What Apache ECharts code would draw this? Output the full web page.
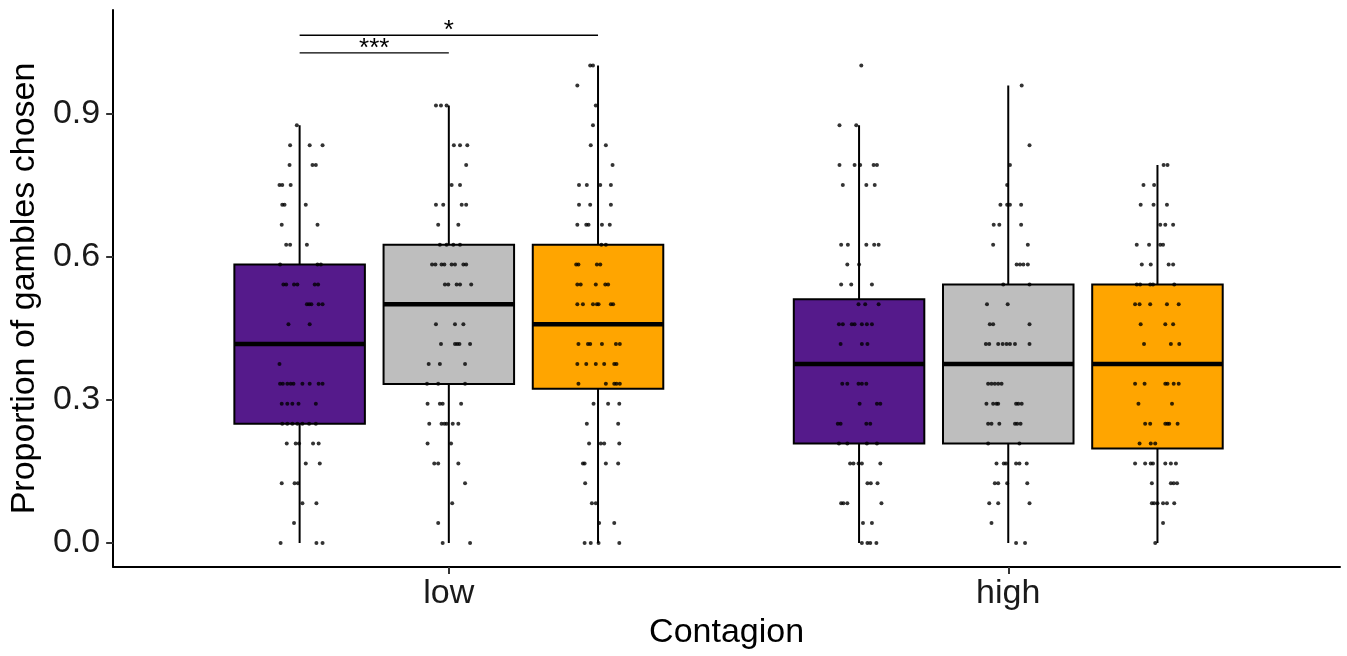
<!DOCTYPE html>
<html>
<head>
<meta charset="utf-8">
<title>Proportion of gambles chosen</title>
<script src="https://cdn.jsdelivr.net/npm/echarts@6/dist/echarts.min.js"></script>
<style>
  html, body { margin: 0; padding: 0; background: #fff; }
  #chart { width: 1347px; height: 656px; }
</style>
</head>
<body>
<div id="chart"></div>
<script>
// Contagion levels on the x axis, three conditions dodged inside each.
const categories = ['low', 'high'];
const conditionColors = ['#551A8B', '#BEBEBE', '#FFA500'];
const yTicks = [0, 0.3, 0.6, 0.9];
const TRIALS = 24;

// Box statistics: [lower whisker, Q1, median, Q3, upper whisker]
const lowPurpleBox = [0, 0.25, 0.4167, 0.5833, 0.875];
const lowGrayBox = [0, 0.3333, 0.5, 0.625, 0.9167];
const lowOrangeBox = [0, 0.3229, 0.4583, 0.625, 1.0];
const highPurpleBox = [0, 0.2083, 0.375, 0.5104, 0.875];
const highGrayBox = [0, 0.2083, 0.375, 0.5417, 0.9583];
const highOrangeBox = [0, 0.1979, 0.375, 0.5417, 0.7917];

// Jittered participants: [gambles chosen out of 24, horizontal jitter]
const lowPurplePoints = [
  [21, -0.005], [20, -0.017], [20, 0.018], [20, 0.041], [19, -0.018], [19, 0.023], [19, 0.029],
  [18, -0.036], [18, -0.031], [18, -0.016], [17, -0.031], [17, -0.027], [17, 0.011],
  [16, -0.032], [16, 0.032], [15, -0.024], [15, -0.017], [15, 0.013],
  [14, -0.035], [14, 0.032], [14, 0.038],
  [13, -0.029], [13, -0.024], [13, -0.010], [13, -0.004], [13, 0.027], [13, 0.033],
  [12, 0.013], [12, 0.017], [12, 0.021], [12, 0.034], [12, 0.041], [11, -0.020], [11, 0.018],
  [9, -0.036],
  [8, -0.035], [8, -0.030], [8, -0.022], [8, -0.016], [8, -0.011], [8, 0.005], [8, 0.018], [8, 0.034], [8, 0.041],
  [7, -0.032], [7, -0.022], [7, -0.013], [7, -0.002], [7, 0.029],
  [6, -0.031], [6, -0.022], [6, -0.013], [6, -0.004], [6, 0.005], [6, 0.017], [6, 0.029],
  [5, -0.023], [5, -0.007], [5, -0.001], [5, 0.024], [5, 0.034], [4, 0.011], [4, 0.036],
  [3, -0.032], [3, -0.009], [3, -0.003], [2, 0.005], [2, 0.030], [1, -0.010],
  [0, -0.034], [0, 0.030], [0, 0.041]
];
const lowGrayPoints = [
  [22, -0.023], [22, -0.014], [22, -0.004], [20, 0.009], [20, 0.020], [20, 0.033], [19, 0.031],
  [18, 0.005], [18, 0.020], [17, -0.023], [17, -0.010], [17, 0.023], [17, 0.031],
  [16, -0.019], [16, 0.017], [15, -0.016], [15, -0.004], [15, 0.008], [15, 0.020],
  [14, -0.030], [14, -0.024], [14, -0.013], [14, -0.008], [14, 0.005], [14, 0.011], [14, 0.026], [14, 0.031],
  [13, -0.007], [13, -0.001], [13, 0.014], [13, 0.020], [13, 0.040],
  [11, -0.023], [11, 0.011], [11, 0.026],
  [10, -0.014], [10, 0.011], [10, 0.015], [10, 0.019], [10, 0.038],
  [9, -0.036], [9, -0.016], [9, 0.029], [8, -0.039], [8, -0.019], [8, 0.029],
  [7, -0.038], [7, -0.016], [7, -0.011], [7, 0.022],
  [6, -0.035], [6, -0.013], [6, -0.008], [6, -0.004], [6, 0.007], [6, 0.017],
  [5, -0.038], [5, 0.004], [4, -0.026], [4, -0.019], [4, 0.017],
  [3, 0.029], [2, 0.006], [1, -0.019], [0, -0.011], [0, 0.038]
];
const lowOrangePoints = [
  [24, -0.014], [24, -0.009], [23, -0.037], [22, -0.004], [21, -0.009], [20, -0.013], [20, 0.014], [19, 0.026],
  [18, -0.034], [18, -0.020], [18, 0.004], [18, 0.023], [17, -0.034], [17, -0.014], [17, 0.023],
  [16, -0.037], [16, -0.021], [16, -0.017], [16, 0.007], [16, 0.021], [15, 0.006], [15, 0.014],
  [14, -0.039], [14, -0.035], [14, -0.002], [14, 0.004],
  [13, -0.037], [13, -0.031], [13, -0.004], [13, 0.013], [13, 0.018],
  [12, -0.037], [12, -0.027], [12, -0.009], [12, -0.002], [12, 0.001], [12, 0.023], [12, 0.027],
  [10, -0.035], [10, -0.018], [10, -0.014], [10, 0.007], [10, 0.032], [10, 0.039],
  [9, -0.037], [9, -0.021], [9, -0.004], [9, 0.011], [9, 0.029], [9, 0.033],
  [8, -0.035], [8, 0.014], [8, 0.029], [8, 0.033], [8, 0.039],
  [7, -0.008], [7, 0.018], [7, 0.038], [6, -0.020], [6, 0.036],
  [5, -0.016], [5, 0.005], [5, 0.011], [5, 0.038], [4, -0.027], [4, -0.024], [4, 0.014], [4, 0.036],
  [3, -0.023], [2, -0.011], [2, -0.004], [1, 0.002], [1, 0.029],
  [0, -0.024], [0, -0.013], [0, 0.001], [0, 0.038]
];
const highPurplePoints = [
  [24, 0.004], [21, -0.035], [21, -0.005],
  [19, -0.035], [19, -0.008], [19, 0.002], [19, 0.026], [19, 0.032], [18, -0.029], [18, 0.013], [18, 0.028],
  [15, -0.032], [15, -0.020], [15, 0.013], [15, 0.027], [15, 0.035], [14, -0.021], [14, 0.000],
  [13, -0.032], [13, -0.014], [13, 0.023], [12, -0.001], [12, 0.011], [12, 0.035],
  [11, -0.036], [11, -0.029], [11, -0.013], [11, -0.008], [11, 0.005], [11, 0.014], [11, 0.023],
  [10, -0.033], [10, 0.005], [10, 0.015],
  [8, -0.030], [8, -0.021], [8, -0.001], [8, 0.005], [8, 0.013], [7, 0.001], [7, 0.032], [7, 0.038],
  [6, -0.038], [6, -0.033], [6, 0.013], [6, 0.020], [5, -0.036], [5, -0.021], [5, 0.014], [5, 0.032],
  [4, -0.016], [4, -0.010], [4, -0.001], [4, 0.005], [4, 0.038], [3, 0.015], [3, 0.021], [3, 0.033],
  [2, -0.032], [2, -0.028], [2, -0.021], [2, 0.040], [1, 0.007], [1, 0.023],
  [0, 0.005], [0, 0.015], [0, 0.020], [0, 0.031]
];
const highGrayPoints = [
  [23, 0.024], [20, 0.038], [19, 0.003], [18, -0.002],
  [17, -0.014], [17, -0.002], [17, 0.003], [17, 0.023], [16, -0.026], [16, -0.016], [16, 0.023],
  [15, -0.027], [15, 0.035], [14, 0.015], [14, 0.021], [14, 0.027], [14, 0.035], [13, -0.009], [13, 0.038],
  [12, -0.038], [12, -0.001], [11, -0.033], [11, -0.027], [11, 0.038],
  [10, -0.040], [10, -0.034], [10, -0.018], [10, -0.010], [10, -0.003], [10, 0.003], [10, 0.012], [10, 0.038],
  [8, -0.036], [8, -0.030], [8, -0.024], [8, -0.018], [8, -0.012],
  [7, -0.039], [7, -0.027], [7, -0.021], [7, -0.018], [7, 0.014], [7, 0.018], [7, 0.024],
  [6, -0.036], [6, -0.030], [6, -0.016], [6, 0.012], [6, 0.016], [6, 0.022], [5, -0.036], [5, 0.020],
  [4, -0.021], [4, -0.008], [4, -0.004], [4, 0.014], [4, 0.020], [4, 0.033],
  [3, -0.024], [3, -0.018], [3, -0.002], [3, 0.034], [2, -0.034], [2, -0.018], [2, 0.038],
  [1, -0.030], [0, 0.014], [0, 0.030]
];
const highOrangePoints = [
  [19, 0.011], [19, 0.018], [18, -0.025], [18, -0.006], [17, -0.030], [17, -0.007], [17, 0.017],
  [16, 0.005], [16, 0.014], [16, 0.028], [15, -0.037], [15, -0.015], [15, 0.005], [15, 0.010],
  [14, -0.028], [14, -0.012], [14, 0.020], [14, 0.028], [13, -0.037], [13, -0.031], [13, -0.013], [13, -0.008], [13, 0.030],
  [12, -0.040], [12, -0.032], [12, -0.013], [12, 0.017], [12, 0.038], [11, -0.030], [11, 0.014], [11, 0.028],
  [10, -0.024], [10, 0.024], [10, 0.039],
  [8, -0.040], [8, -0.023], [8, 0.014], [8, 0.018], [8, 0.029], [8, 0.038], [7, -0.034], [7, 0.026],
  [6, -0.022], [6, -0.013], [6, 0.014], [6, 0.018], [6, 0.021], [6, 0.036], [5, -0.032], [5, -0.012], [5, -0.004],
  [4, -0.040], [4, -0.022], [4, -0.012], [4, -0.008], [4, 0.014], [4, 0.024], [4, 0.033],
  [3, -0.010], [3, 0.024], [3, 0.029], [3, 0.035],
  [2, -0.010], [2, -0.006], [2, 0.000], [2, 0.010], [2, 0.017], [2, 0.030], [1, 0.010], [0, -0.004]
];

// Significance brackets in the low group: [from condition, to condition, height]
const sigBrackets = [[0, 2, 1.0636], [0, 1, 1.0265]];
const sigLabels = ['*', '***'];

const DODGE = 0.2667;
const BOX_WIDTH = 0.2333;
const FONT = 'Liberation Sans, Arial, sans-serif';

const boxes = [
  [0, 0, lowPurpleBox], [0, 1, lowGrayBox], [0, 2, lowOrangeBox],
  [1, 0, highPurpleBox], [1, 1, highGrayBox], [1, 2, highOrangeBox]
];
const pointSets = [
  [0, 0, lowPurplePoints], [0, 1, lowGrayPoints], [0, 2, lowOrangePoints],
  [1, 0, highPurplePoints], [1, 1, highGrayPoints], [1, 2, highOrangePoints]
];

function conditionX(cat, cond) {
  return cat + (cond - 1) * DODGE;
}

const boxData = boxes.map(([cat, cond, stats]) => ({
  value: [conditionX(cat, cond)].concat(stats),
  itemStyle: { color: conditionColors[cond] }
}));

const pointData = [];
pointSets.forEach(([cat, cond, points]) => {
  points.forEach(([count, jitter]) => {
    pointData.push([conditionX(cat, cond) + jitter, count / TRIALS]);
  });
});

const sigData = sigBrackets.map(([a, b, h], i) => [conditionX(0, a), conditionX(0, b), h, i]);

function renderBox(params, api) {
  const x = api.value(0);
  const low = api.coord([x, api.value(1)]);
  const q1 = api.coord([x, api.value(2)]);
  const med = api.coord([x, api.value(3)]);
  const q3 = api.coord([x, api.value(4)]);
  const high = api.coord([x, api.value(5)]);
  const half = api.size([BOX_WIDTH, 0])[0] / 2;

  return {
    type: 'group',
    children: [
      {
        type: 'line',
        shape: { x1: low[0], y1: low[1], x2: high[0], y2: high[1] },
        style: { stroke: '#000', lineWidth: 2 }
      },
      {
        type: 'rect',
        shape: { x: q1[0] - half, y: q3[1], width: half * 2, height: q1[1] - q3[1] },
        style: { fill: api.visual('color'), stroke: '#000', lineWidth: 2 }
      },
      {
        type: 'line',
        shape: { x1: med[0] - half, y1: med[1], x2: med[0] + half, y2: med[1] },
        style: { stroke: '#000', lineWidth: 4.5 }
      }
    ]
  };
}

function renderSig(params, api) {
  const start = api.coord([api.value(0), api.value(2)]);
  const end = api.coord([api.value(1), api.value(2)]);

  return {
    type: 'group',
    children: [
      {
        type: 'line',
        shape: { x1: start[0], y1: start[1], x2: end[0], y2: end[1] },
        style: { stroke: '#000', lineWidth: 1.3 }
      },
      {
        type: 'text',
        x: (start[0] + end[0]) / 2,
        y: start[1] - 4,
        style: {
          text: sigLabels[api.value(3)],
          fill: '#000',
          font: '26px ' + FONT,
          align: 'center',
          verticalAlign: 'middle'
        }
      }
    ]
  };
}

const chart = echarts.init(document.getElementById('chart'));

chart.setOption({
  animation: false,
  backgroundColor: '#fff',
  grid: { left: 113, right: 7, top: 10, bottom: 89 },
  xAxis: {
    type: 'value',
    min: -0.6,
    max: 1.593,
    name: 'Contagion',
    nameLocation: 'middle',
    nameGap: 48,
    nameTextStyle: { fontSize: 34, color: '#000', fontFamily: FONT },
    splitLine: { show: false },
    axisLine: { onZero: false, lineStyle: { color: '#000', width: 2 } },
    axisTick: { length: 7, lineStyle: { color: '#333', width: 2 }, customValues: [0, 1] },
    axisLabel: {
      customValues: [0, 1],
      formatter: (v) => categories[Math.round(v)],
      fontSize: 34,
      color: '#1a1a1a',
      fontFamily: FONT,
      margin: 10
    }
  },
  yAxis: {
    type: 'value',
    min: -0.0503,
    max: 1.1165,
    name: 'Proportion of gambles chosen',
    nameLocation: 'middle',
    nameGap: 66,
    nameTextStyle: { fontSize: 34, color: '#000', fontFamily: FONT },
    splitLine: { show: false },
    axisLine: { show: true, onZero: false, lineStyle: { color: '#000', width: 2 } },
    axisTick: { show: true, length: 7, lineStyle: { color: '#333', width: 2 }, customValues: yTicks },
    axisLabel: {
      customValues: yTicks,
      formatter: (v) => v.toFixed(1),
      fontSize: 34,
      color: '#1a1a1a',
      fontFamily: FONT,
      margin: 13
    }
  },
  series: [
    {
      type: 'custom',
      renderItem: renderBox,
      data: boxData,
      encode: { x: 0, y: [1, 2, 3, 4, 5] },
      z: 2
    },
    {
      type: 'scatter',
      data: pointData,
      symbolSize: 4,
      itemStyle: { color: '#000' },
      z: 3
    },
    {
      type: 'custom',
      renderItem: renderSig,
      data: sigData,
      encode: { x: [0, 1], y: 2 },
      clip: false,
      z: 4
    }
  ]
});
</script>
</body>
</html>
